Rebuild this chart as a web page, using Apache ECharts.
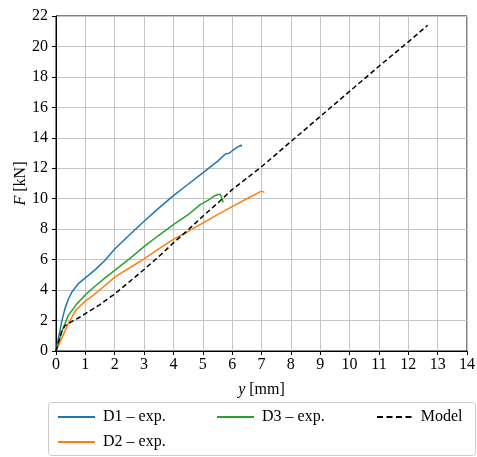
<!DOCTYPE html>
<html><head><meta charset="utf-8">
<script src="https://cdn.jsdelivr.net/npm/echarts@6/dist/echarts.min.js"></script>
<style>html,body{margin:0;padding:0;background:#fff}#c{width:477px;height:457px}</style>
</head><body><div id="c"></div>
<script>
const d1X = [0, 0.1, 0.19, 0.3, 0.42, 0.54, 0.76, 1.0, 1.33, 1.67, 2.0, 2.5, 3.0, 3.5, 4.0, 4.5, 5.0, 5.5, 5.78, 5.83, 5.9, 6.0, 6.15, 6.3, 6.32];
const d1F = [0, 1.0, 1.9, 2.75, 3.4, 3.87, 4.42, 4.8, 5.33, 5.96, 6.7, 7.62, 8.52, 9.38, 10.2, 10.95, 11.7, 12.45, 12.95, 12.85, 12.98, 13.15, 13.35, 13.52, 13.42];
const d2X = [0, 0.19, 0.42, 0.67, 1.0, 1.33, 1.67, 2.0, 2.5, 3.0, 3.5, 4.0, 4.5, 5.0, 5.5, 6.0, 6.5, 7.0, 7.06, 7.1];
const d2F = [0, 0.81, 1.8, 2.67, 3.28, 3.75, 4.3, 4.85, 5.45, 6.05, 6.7, 7.33, 7.85, 8.4, 8.95, 9.48, 10.0, 10.5, 10.57, 10.42];
const d3X = [0, 0.19, 0.42, 0.67, 1.0, 1.33, 1.67, 2.0, 2.5, 3.0, 3.5, 4.0, 4.5, 4.9, 5.2, 5.41, 5.52, 5.6, 5.64, 5.66, 5.69];
const d3F = [0, 1.25, 2.34, 3.0, 3.7, 4.25, 4.8, 5.3, 6.05, 6.85, 7.6, 8.3, 8.95, 9.6, 9.92, 10.2, 10.28, 10.28, 10.18, 10.0, 9.75];
const modelX = [0, 0.1, 0.2, 0.3, 0.5, 0.75, 1.0, 1.5, 2.0, 2.5, 3.0, 3.5, 4.0, 4.5, 5.0, 5.5, 6.0, 7.0, 8.0, 9.0, 10.0, 11.0, 12.0, 12.66];
const modelF = [0, 0.7, 1.3, 1.65, 1.9, 2.15, 2.45, 3.05, 3.75, 4.55, 5.35, 6.2, 7.1, 7.95, 8.85, 9.7, 10.6, 12.1, 13.75, 15.4, 17.05, 18.7, 20.3, 21.39];
const seriesNames = ['D1 – exp.', 'D2 – exp.', 'D3 – exp.', 'Model'];
const xTicks = {min: 0, max: 14, step: 1};
const yTicks = {min: 0, max: 22, step: 2};

const pairs = (xs, ys) => xs.map((x, i) => [x, ys[i]]);
const FONT = 'Liberation Serif';
const chart = echarts.init(document.getElementById('c'), null, {renderer: 'canvas'});
const mk = (name, xs, ys, color, type) => ({
  name, type: 'line', data: pairs(xs, ys), symbol: 'none', showSymbol: false, smooth: false,
  lineStyle: {color, width: 1.5, type: type || 'solid'}, itemStyle: {color},
  animation: false, z: 5
});
const SOLID = 'path://M0,0H37V2H0Z';
const DASH = 'path://M0,0H6V2H0Z M9.5,0H15.5V2H9.5Z M19,0H25V2H19Z M28.5,0H34.5V2H28.5Z';
const legendBase = {
  orient: 'vertical', itemWidth: 37, itemHeight: 2, itemGap: 7, height: 60,
  textStyle: {fontFamily: FONT, fontSize: 16, color: '#000', padding: [0, 0, 0, 3], lineHeight: 18},
  selectedMode: false
};
const italic = {i: {fontFamily: FONT, fontSize: 16, fontStyle: 'italic', color: '#000'}};
chart.setOption({
  animation: false,
  backgroundColor: '#fff',
  grid: {left: 56, right: 10, top: 16, bottom: 106, outerBoundsMode: 'none', containLabel: false,
         show: true, borderColor: '#000', borderWidth: 1, backgroundColor: 'transparent'},
  xAxis: {
    type: 'value', min: xTicks.min, max: xTicks.max, interval: xTicks.step,
    name: '{i|y} [mm]', nameLocation: 'middle', nameGap: 31, nameMoveOverlap: false,
    nameTextStyle: {fontFamily: FONT, fontSize: 16, color: '#000', rich: italic},
    axisLine: {show: true, lineStyle: {color: '#000', width: 1}},
    axisTick: {show: true, length: 4, lineStyle: {color: '#000'}},
    axisLabel: {fontFamily: FONT, fontSize: 16, color: '#000', margin: 6},
    splitLine: {show: true, lineStyle: {color: '#c4c4c4', width: 1}}
  },
  yAxis: {
    type: 'value', min: yTicks.min, max: yTicks.max, interval: yTicks.step,
    name: '{i|F} [kN]', nameLocation: 'middle', nameGap: 27, nameRotate: 90, nameMoveOverlap: false,
    nameTextStyle: {fontFamily: FONT, fontSize: 16, color: '#000', rich: italic},
    axisLine: {show: true, lineStyle: {color: '#000', width: 1}},
    axisTick: {show: true, length: 4, lineStyle: {color: '#000'}},
    axisLabel: {fontFamily: FONT, fontSize: 16, color: '#000', margin: 8},
    splitLine: {show: true, lineStyle: {color: '#c4c4c4', width: 1}}
  },
  legend: [
    Object.assign({}, legendBase, {left: 53, top: 403, data: [{name: seriesNames[0], icon: SOLID}, {name: seriesNames[1], icon: SOLID}]}),
    Object.assign({}, legendBase, {left: 212, top: 403, data: [{name: seriesNames[2], icon: SOLID}]}),
    Object.assign({}, legendBase, {left: 372, top: 403, data: [{name: seriesNames[3], icon: DASH}]})
  ],
  graphic: [{
    type: 'rect', left: 48, top: 402, z: -1,
    shape: {width: 427, height: 53, r: 3},
    style: {fill: '#fff', stroke: '#cccccc', lineWidth: 1}
  }],
  series: [
    mk(seriesNames[0], d1X, d1F, '#1f77b4'),
    mk(seriesNames[1], d2X, d2F, '#ff7f0e'),
    mk(seriesNames[2], d3X, d3F, '#2ca02c'),
    mk(seriesNames[3], modelX, modelF, '#000000', [5, 3])
  ]
});
</script></body></html>
